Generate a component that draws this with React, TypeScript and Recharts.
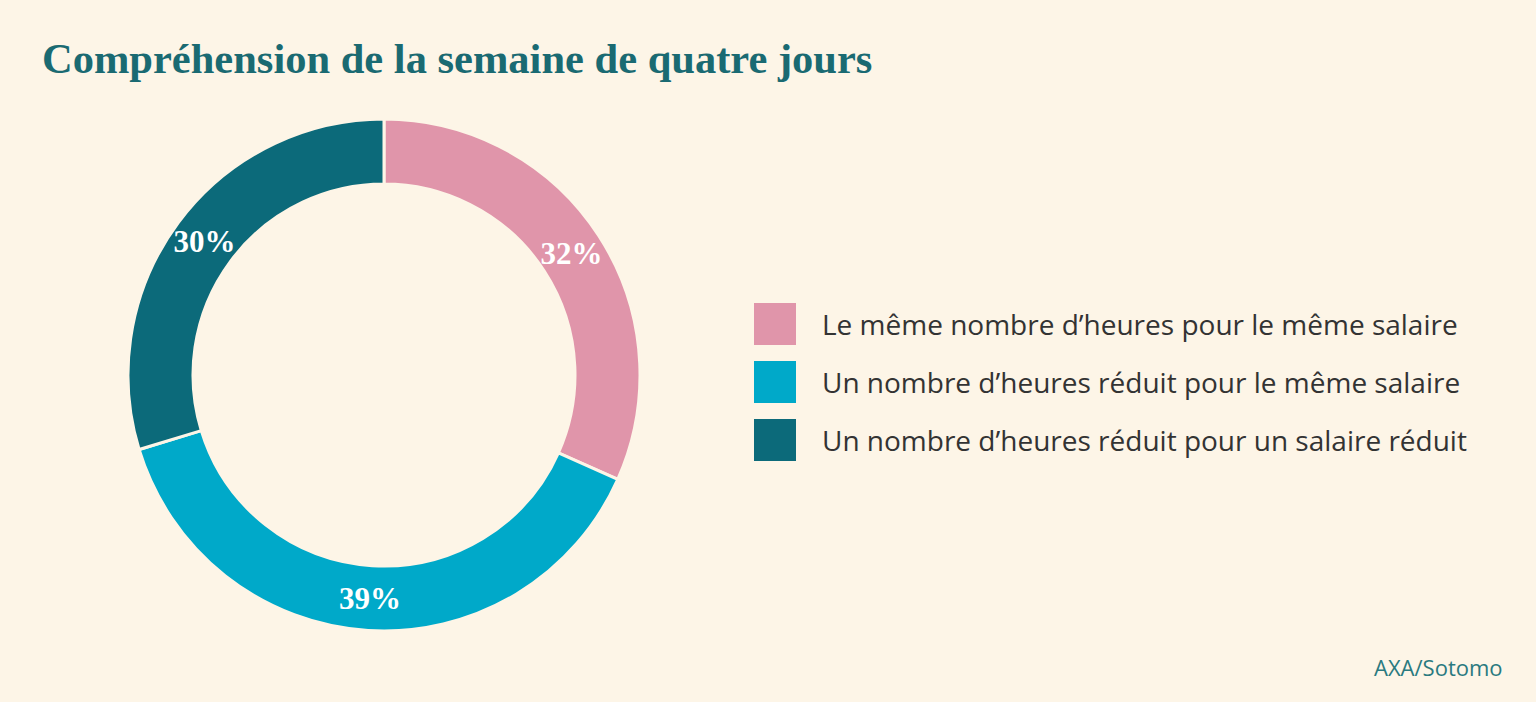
import { PieChart, Pie, Cell, Legend } from 'recharts';

const categories = [
  'Le même nombre d’heures pour le même salaire',
  'Un nombre d’heures réduit pour le même salaire',
  'Un nombre d’heures réduit pour un salaire réduit',
];
const shares = [32, 39, 30];
const colors = ['#e095aa', '#00a9c9', '#0c6a7a'];

const data = categories.map((name, i) => ({ name, value: shares[i] }));

const BG = '#fdf5e7';
const RAD = Math.PI / 180;

const renderLabel = (props: any) => {
  const { cx, cy, midAngle, innerRadius, outerRadius, value } = props;
  const r = (innerRadius + outerRadius) / 2;
  const x = cx + r * Math.cos(-midAngle * RAD);
  const y = cy + r * Math.sin(-midAngle * RAD);
  return (
    <text
      x={x}
      y={y}
      fill="#ffffff"
      textAnchor="middle"
      dominantBaseline="central"
      fontFamily="'Liberation Serif', serif"
      fontWeight="bold"
      fontSize={31}
    >
      {value}%
    </text>
  );
};

const LegendContent = (props: any) => {
  const { payload } = props;
  return (
    <div>
      {payload.map((entry: any, i: number) => (
        <div key={i} style={{ display: 'flex', alignItems: 'center', height: 42, marginBottom: 16 }}>
          <div style={{ width: 42, height: 42, background: entry.color, marginRight: 26 }} />
          <span style={{ fontFamily: "'Open Sans', sans-serif", fontSize: 28, color: '#333333' }}>
            {entry.value}
          </span>
        </div>
      ))}
    </div>
  );
};

export default function App() {
  return (
    <div style={{ position: 'absolute', left: 0, top: 0, width: 1536, height: 702, background: BG, overflow: 'hidden' }}>
      <div
        style={{
          position: 'absolute',
          left: 42,
          top: 34,
          fontFamily: "'Liberation Serif', serif",
          fontWeight: 'bold',
          fontSize: 42.5,
          color: '#1a6a72',
          whiteSpace: 'nowrap',
        }}
      >
        Compréhension de la semaine de quatre jours
      </div>
      <PieChart
        width={1536}
        height={702}
        margin={{ top: 0, right: 0, bottom: 0, left: 0 }}
        style={{ position: 'absolute', left: 0, top: 0 }}
      >
        <Pie
          data={data}
          dataKey="value"
          nameKey="name"
          cx={384}
          cy={375}
          innerRadius={191}
          outerRadius={256}
          startAngle={90}
          endAngle={-270}
          stroke={BG}
          strokeWidth={3}
          label={renderLabel}
          labelLine={false}
          isAnimationActive={false}
        >
          {data.map((_, i) => (
            <Cell key={i} fill={colors[i]} />
          ))}
        </Pie>
        <Legend
          layout="vertical"
          content={<LegendContent />}
          wrapperStyle={{ position: 'absolute', left: 754, top: 303, width: 770 }}
        />
      </PieChart>
      <div
        style={{
          position: 'absolute',
          left: 1374,
          top: 652,
          fontFamily: "'Open Sans', sans-serif",
          fontSize: 22,
          color: '#2a7a80',
        }}
      >
        AXA/Sotomo
      </div>
    </div>
  );
}
